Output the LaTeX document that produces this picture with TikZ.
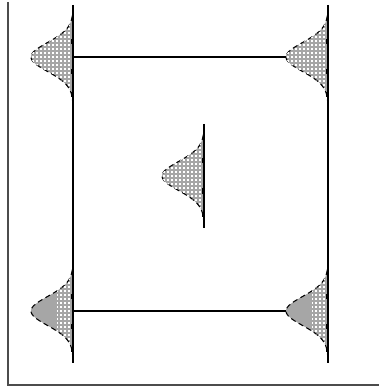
\documentclass[tikz,border=0pt]{standalone}

\begin{document}
\begin{tikzpicture}[
  x=0.02cm, y=-0.02cm,
  edge/.style={line width=1.1pt, draw=black!70},
  box/.style={line width=0.8pt, draw=black},
  bell/.style={fill=gray!70, draw=black, densely dashed, line width=0.6pt},
  axis/.style={line width=1.4pt, draw=black},
  tick/.style={fill=black},
  %% bell; #1 = left end of the dotted part
  bellpic/.pic={
    \path[bell] plot[domain=-50:50, samples=61, variable=\t]
      ({-42*exp(-\t*\t/420)}, {\t}) -- cycle;
    \begin{scope}
      \clip plot[domain=-50:50, samples=61, variable=\t]
        ({-42*exp(-\t*\t/420)}, {\t}) -- cycle;
      \clip (#1,-55) rectangle (0,55);
      \foreach \i in {-45,-41,...,-1}
        \foreach \j in {-53,-49,...,53}
          \fill[white] (\i,\j) rectangle ++(2.2,2.2);
    \end{scope}
    \draw[axis] (0,-52) -- (0,52);
    \foreach \m in {-15,15,38} \fill[tick] (-2.5,\m-2.5) rectangle (0.5,\m+2.5);
  },
]
  \useasboundingbox (0,0) rectangle (381,391);

  %% outer frame
  \coordinate (ftop) at (8,2);
  \coordinate (fcorner) at (8,385);
  \coordinate (fend) at (379,385);
  \draw[edge] (ftop) -- (fcorner) -- (fend);

  %% square
  \coordinate (tl) at (73,57);
  \coordinate (tr) at (328,57);
  \coordinate (br) at (328,311);
  \coordinate (bl) at (73,311);
  \coordinate (mid) at (204,176);
  \draw[box] (tl) -- (tr) -- (br) -- (bl) -- cycle;

  %% bells
  \pic at (tl) {bellpic=-44};
  \pic at (tr) {bellpic=-44};
  \pic at (mid) {bellpic=-44};
  \pic at (bl) {bellpic=-16};
  \pic at (br) {bellpic=-16};
\end{tikzpicture}
\end{document}
